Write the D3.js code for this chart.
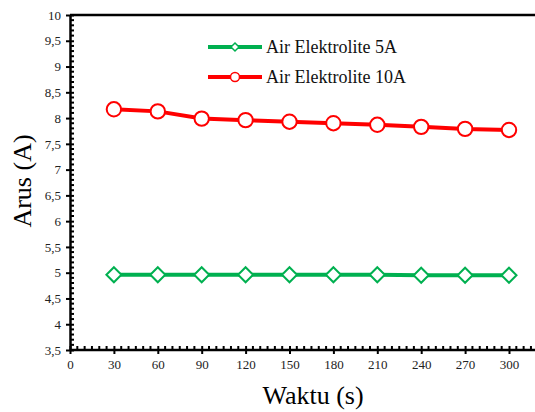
<!DOCTYPE html>
<html>
<head>
<meta charset="utf-8">
<script src="https://cdn.jsdelivr.net/npm/d3@7"></script>
<style>
  html, body { margin: 0; padding: 0; background: #fff; }
  svg { display: block; }
  svg text { font-family: "Liberation Serif", "Times New Roman", serif; }
</style>
</head>
<body>
<svg id="chart" width="535" height="412"></svg>
<script>
// Time (s) on the x axis
const waktu = [30, 60, 90, 120, 150, 180, 210, 240, 270, 300];
// Current (A) for each electrolyte
const arus5A = [4.96, 4.96, 4.96, 4.96, 4.96, 4.96, 4.96, 4.95, 4.95, 4.95];
const arus10A = [8.17, 8.13, 7.99, 7.96, 7.93, 7.90, 7.87, 7.83, 7.79, 7.77];
const seriesNames = ["Air Elektrolite 5A", "Air Elektrolite 10A"];
const xTicks = [0, 30, 60, 90, 120, 150, 180, 210, 240, 270, 300];
const yTicks = [3.5, 4, 4.5, 5, 5.5, 6, 6.5, 7, 7.5, 8, 8.5, 9, 9.5, 10];

const svg = d3.select("#chart");
const plotLeft = 70, plotTop = 15, plotBottom = 350;

const x = d3.scaleLinear().domain([0, 330]).range([plotLeft, plotLeft + 43.9 * 11]);
const y = d3.scaleLinear().domain([3.5, 10]).range([plotBottom, plotTop]);
const fmt = d => String(d).replace(".", ",");

const green = "#00b050", red = "#ff0000";

// top frame line
svg.append("line")
  .attr("x1", plotLeft).attr("x2", 540).attr("y1", y(10)).attr("y2", y(10))
  .attr("stroke", "#000").attr("stroke-width", 2.5);

// minor ticks
const minorX = d3.range(0, 335, 5).filter(v => v % 30 !== 0);
svg.append("g").selectAll("line").data(minorX).join("line")
  .attr("x1", d => x(d)).attr("x2", d => x(d))
  .attr("y1", plotBottom).attr("y2", plotBottom - 4)
  .attr("stroke", "#000").attr("stroke-width", 2);
const minorY = d3.range(35, 101, 1).map(v => v / 10).filter(v => Math.round(v * 10) % 5 !== 0);
svg.append("g").selectAll("line").data(minorY).join("line")
  .attr("x1", plotLeft).attr("x2", plotLeft + 4)
  .attr("y1", d => y(d)).attr("y2", d => y(d))
  .attr("stroke", "#000").attr("stroke-width", 2);

// x axis
const xAxis = svg.append("g").attr("transform", `translate(0,${plotBottom})`)
  .call(d3.axisBottom(x).tickValues(xTicks).tickFormat(d => d).tickSizeInner(5).tickSizeOuter(0))
  .attr("font-family", null).attr("font-size", 13);
xAxis.select(".domain").attr("stroke-width", 2.5).attr("d", `M${plotLeft},0H540`);
xAxis.selectAll(".tick line").attr("y1", -4).attr("y2", 4).attr("stroke-width", 2);
xAxis.selectAll(".tick text").attr("y", 10).attr("fill", "#222");

// y axis
const yAxis = svg.append("g").attr("transform", `translate(${plotLeft},0)`)
  .call(d3.axisLeft(y).tickValues(yTicks).tickFormat(fmt).tickSizeInner(5).tickSizeOuter(0))
  .attr("font-family", null).attr("font-size", 13);
yAxis.select(".domain").attr("stroke-width", 2.5);
yAxis.selectAll(".tick line").attr("x1", -4).attr("x2", 4).attr("stroke-width", 2);
yAxis.selectAll(".tick text").attr("x", -9).attr("fill", "#222");

// axis titles
svg.append("text").attr("x", 313).attr("y", 404).attr("text-anchor", "middle")
  .attr("font-size", 26).text("Waktu (s)");
svg.append("text").attr("transform", "translate(31,181) rotate(-90)").attr("text-anchor", "middle")
  .attr("font-size", 26).text("Arus (A)");

const line = d3.line().x(d => x(d[0])).y(d => y(d[1]));
const d5 = waktu.map((t, i) => [t, arus5A[i]]);
const d10 = waktu.map((t, i) => [t, arus10A[i]]);
const diamond = (cx, cy, r) => `M${cx},${cy - r}L${cx + r},${cy}L${cx},${cy + r}L${cx - r},${cy}Z`;

// 5A series
svg.append("path").datum(d5).attr("d", line)
  .attr("fill", "none").attr("stroke", green).attr("stroke-width", 4);
svg.append("g").selectAll("path").data(d5).join("path")
  .attr("d", d => diamond(x(d[0]), y(d[1]), 7.5))
  .attr("fill", "#fff").attr("stroke", green).attr("stroke-width", 2);

// 10A series
svg.append("path").datum(d10).attr("d", line)
  .attr("fill", "none").attr("stroke", red).attr("stroke-width", 4);
svg.append("g").selectAll("circle").data(d10).join("circle")
  .attr("cx", d => x(d[0])).attr("cy", d => y(d[1])).attr("r", 7.2)
  .attr("fill", "#fff").attr("stroke", red).attr("stroke-width", 2);

// legend
const legend = svg.append("g");
const items = [
  { name: seriesNames[0], color: green, marker: "diamond", yy: 47 },
  { name: seriesNames[1], color: red, marker: "circle", yy: 77 }
];
items.forEach(it => {
  legend.append("line").attr("x1", 208).attr("x2", 262).attr("y1", it.yy).attr("y2", it.yy)
    .attr("stroke", it.color).attr("stroke-width", 4);
  if (it.marker === "diamond") {
    legend.append("path").attr("d", diamond(235, it.yy, 4))
      .attr("fill", "#fff").attr("stroke", it.color).attr("stroke-width", 1.5);
  } else {
    legend.append("circle").attr("cx", 235).attr("cy", it.yy).attr("r", 4.5)
      .attr("fill", "#fff").attr("stroke", it.color).attr("stroke-width", 1.5);
  }
  legend.append("text").attr("x", 266).attr("y", it.yy + 6).attr("font-size", 18)
    .attr("fill", "#111").text(it.name);
});
</script>
</body>
</html>
